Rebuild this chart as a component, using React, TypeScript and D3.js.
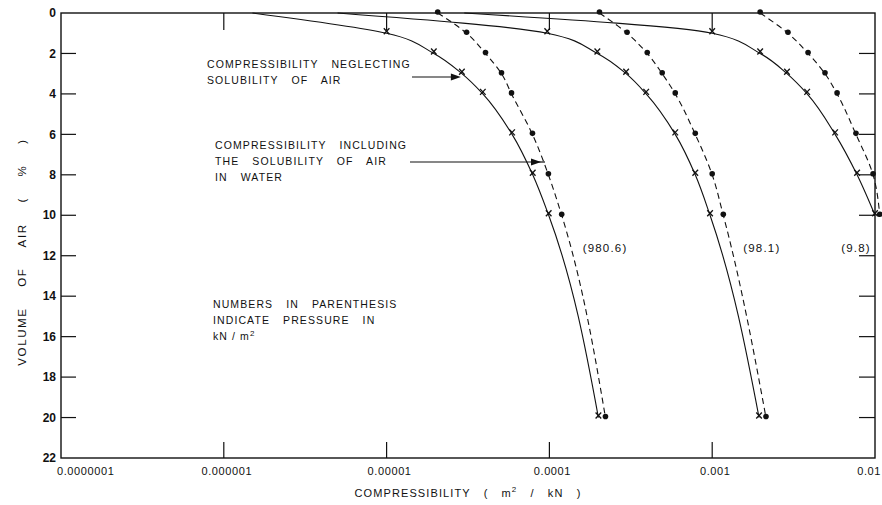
import React from 'react';
import * as d3 from 'd3';

// volume of air (%) and compressibility (m2/kN)
const volNeglect = [0, 1, 2, 3, 4, 6, 8, 10, 20];
const neglect980 = [1.5e-6, 1.0e-5, 1.95e-5, 2.9e-5, 3.9e-5, 5.9e-5, 7.9e-5, 9.9e-5, 2.0e-4];
const neglect98 = [5e-6, 9.7e-5, 1.97e-4, 2.96e-4, 3.93e-4, 5.93e-4, 7.87e-4, 9.7e-4, 1.94e-3];
const neglect9 = [3e-5, 1.0e-3, 1.97e-3, 2.88e-3, 3.83e-3, 5.69e-3, 7.76e-3, 1.0e-2];

const volInclude = [0, 1, 2, 3, 4, 6, 8, 10, 20];
const include980 = [2.06e-5, 3.1e-5, 4.05e-5, 5.08e-5, 5.85e-5, 7.87e-5, 9.86e-5, 1.19e-4, 2.21e-4];
const include98 = [2.03e-4, 3.0e-4, 3.99e-4, 4.93e-4, 5.93e-4, 7.87e-4, 1.0e-3, 1.17e-3, 2.14e-3];
const include9 = [1.97e-3, 2.92e-3, 3.88e-3, 4.93e-3, 5.85e-3, 7.64e-3, 9.73e-3, 1.07e-2];

const xTicks = [1e-7, 1e-6, 1e-5, 1e-4, 1e-3, 1e-2];
const xTickLabels = ['0.0000001', '0.000001', '0.00001', '0.0001', '0.001', '0.01'];
const yTicks = [0, 2, 4, 6, 8, 10, 12, 14, 16, 18, 20, 22];

const pressureLabels = ['(980.6)', '(98.1)', '(9.8)'];
const pressureLabelAt = [[1.6e-4, 11.6], [1.55e-3, 11.6], [6.2e-3, 11.6]];

const FONT = '"Liberation Sans", Arial, sans-serif';

const width = 882;
const height = 505;
const margin = { top: 13, right: 7, bottom: 47, left: 61 };

type Pt = [number, number];

const App: React.FC = () => {
  const x = d3.scaleLog().domain([1e-7, 1e-2]).range([margin.left, width - margin.right]);
  const y = d3.scaleLinear().domain([0, 22]).range([margin.top, height - margin.bottom]);

  const line = d3
    .line<Pt>()
    .x(d => x(d[1]))
    .y(d => y(d[0]))
    .curve(d3.curveMonotoneY);

  const zip = (vols: number[], vals: number[]): Pt[] => vals.map((v, i) => [vols[i], v]);

  const neglect = [neglect980, neglect98, neglect9].map(s => zip(volNeglect, s));
  const include = [include980, include98, include9].map(s => zip(volInclude, s));

  const x0 = margin.left;
  const x1 = width - margin.right;
  const y0 = margin.top;
  const y1 = height - margin.bottom;

  const textStyle = { fontFamily: FONT, fontSize: 10.5, letterSpacing: 1.1, wordSpacing: 9, fill: '#111' };

  const arrow = (xa: number, xb: number, yy: number) => (
    <g>
      <line x1={xa} x2={xb - 8} y1={yy} y2={yy} stroke="#111" strokeWidth={1.2} />
      <path d={`M${xb},${yy} L${xb - 10},${yy - 3.5} L${xb - 10},${yy + 3.5} Z`} fill="#111" />
    </g>
  );

  return (
    <svg
      width={width}
      height={height}
      style={{ position: 'absolute', left: 0, top: 0, background: '#fff' }}
    >
      {/* frame */}
      <rect x={x0} y={y0} width={x1 - x0} height={y1 - y0} fill="none" stroke="#111" strokeWidth={1.4} />

      {/* y ticks, both sides */}
      {yTicks.slice(1, -1).map(t => (
        <g key={t}>
          <line x1={x0} x2={x0 + 15} y1={y(t)} y2={y(t)} stroke="#111" strokeWidth={1.2} />
          <line x1={x1 - 16} x2={x1} y1={y(t)} y2={y(t)} stroke="#111" strokeWidth={1.2} />
        </g>
      ))}
      {yTicks.map(t => (
        <text key={t} x={56} y={y(t)} dy="0.35em" textAnchor="end"
          style={{ fontFamily: FONT, fontSize: 12, fontWeight: 600, fill: '#111' }}>
          {t}
        </text>
      ))}

      {/* x ticks top and bottom */}
      {xTicks.slice(1, -1).map(t => (
        <g key={t}>
          <line x1={x(t)} x2={x(t)} y1={y1} y2={y1 - 16} stroke="#111" strokeWidth={1.2} />
          <line x1={x(t)} x2={x(t)} y1={y0} y2={y0 + 17} stroke="#111" strokeWidth={1.2} />
        </g>
      ))}
      {xTicks.map((t, i) => {
        const last = i === xTicks.length - 1;
        return (
          <text key={t} x={i === 0 ? x(t) - 4 : last ? width - 1 : x(t) + 3} y={y1 + 17}
            textAnchor={i === 0 ? 'start' : last ? 'end' : 'middle'}
            style={{ fontFamily: FONT, fontSize: 11, letterSpacing: 0.6, fill: '#111' }}>
            {xTickLabels[i]}
          </text>
        );
      })}

      {/* axis titles */}
      <text x={468} y={497} textAnchor="middle" style={{ ...textStyle, fontSize: 11 }}>
        COMPRESSIBILITY{'   '}( m<tspan dy={-5} fontSize={8}>2</tspan><tspan dy={5}> / kN )</tspan>
      </text>
      <text transform={`translate(26,252) rotate(-90)`} textAnchor="middle"
        style={{ ...textStyle, fontSize: 11.5, letterSpacing: 1.6, wordSpacing: 16 }}>
        VOLUME OF AIR ( % )
      </text>

      {/* curves: solid with crosses neglecting solubility, dashed with dots including it */}
      {neglect.map((s, i) => (
        <path key={`n${i}`} d={line(s) || ''} fill="none" stroke="#111" strokeWidth={1.1} />
      ))}
      {include.map((s, i) => (
        <path key={`i${i}`} d={line(s) || ''} fill="none" stroke="#111" strokeWidth={1.1} strokeDasharray="6,4" />
      ))}
      {neglect.map((s, i) =>
        s
          .filter(d => d[0] > 0)
          .map((d, j) => {
            const cx = x(d[1]);
            const cy = y(d[0]) - 2;
            return (
              <g key={`nx${i}-${j}`} stroke="#111" strokeWidth={1.3}>
                <line x1={cx - 2.8} x2={cx + 2.8} y1={cy - 3} y2={cy + 3} />
                <line x1={cx - 2.8} x2={cx + 2.8} y1={cy + 3} y2={cy - 3} />
              </g>
            );
          })
      )}
      {include.map((s, i) =>
        s.map((d, j) => (
          <circle key={`id${i}-${j}`} cx={x(d[1])} cy={y(d[0]) - 1} r={2.8} fill="#111" />
        ))
      )}

      {/* pressure labels */}
      {pressureLabels.map((l, i) => (
        <text key={l} x={x(pressureLabelAt[i][0])} y={y(pressureLabelAt[i][1])} dy="0.35em"
          style={{ fontFamily: FONT, fontSize: 11.5, letterSpacing: 1.2, fill: '#111' }}>
          {l}
        </text>
      ))}

      {/* annotations */}
      <text x={207} y={68} style={textStyle}>COMPRESSIBILITY NEGLECTING</text>
      <text x={207} y={84} style={textStyle}>SOLUBILITY OF AIR</text>
      {arrow(412, x(2.9e-5) - 1, 77)}

      <text x={215} y={149} style={textStyle}>COMPRESSIBILITY INCLUDING</text>
      <text x={215} y={165} style={textStyle}>THE SOLUBILITY OF AIR</text>
      <text x={215} y={181} style={textStyle}>IN WATER</text>
      {arrow(410, 541, 162)}
      <line x1={538} x2={545} y1={162} y2={162} stroke="#111" strokeWidth={1.2} />

      <text x={213} y={308} style={textStyle}>NUMBERS IN PARENTHESIS</text>
      <text x={213} y={324} style={textStyle}>INDICATE PRESSURE IN</text>
      <text x={213} y={340} style={{ ...textStyle, wordSpacing: 0 }}>
        kN / m<tspan dy={-4} fontSize={8}>2</tspan>
      </text>
    </svg>
  );
};

export default App;
